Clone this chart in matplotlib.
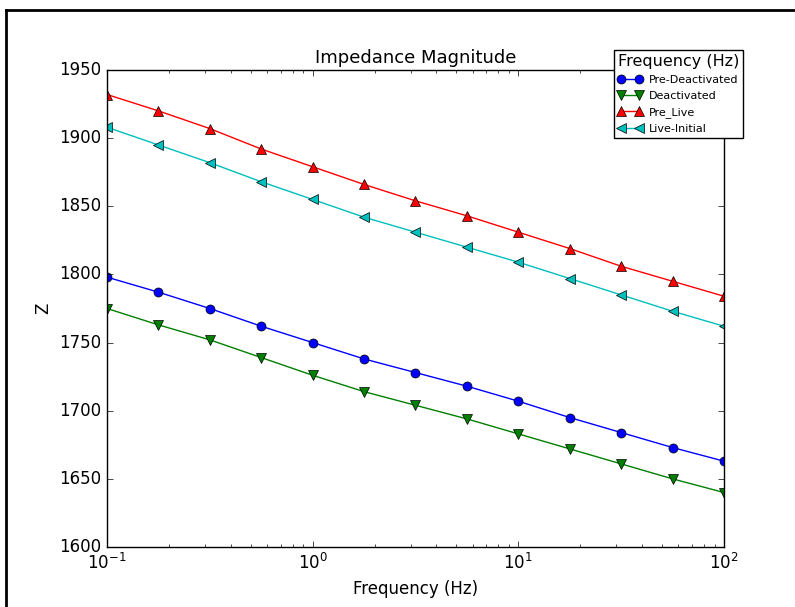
import numpy as np
import matplotlib
matplotlib.use("Agg")
import matplotlib.pyplot as plt
from matplotlib.lines import Line2D

# frequencies (Hz), 4 points per decade
freq = [0.1, 0.1778, 0.3162, 0.5623, 1.0, 1.778, 3.162, 5.623,
        10.0, 17.78, 31.62, 56.23, 100.0]

pre_deactivated = [1798, 1787, 1775, 1762, 1750, 1738, 1728, 1718, 1707, 1695, 1684, 1673, 1663]
deactivated = [1775, 1763, 1752, 1739, 1726, 1714, 1704, 1694, 1683, 1672, 1661, 1650, 1640]
pre_live = [1932, 1920, 1907, 1892, 1879, 1866, 1854, 1843, 1831, 1819, 1806, 1795, 1784]
live_initial = [1908, 1895, 1882, 1868, 1855, 1842, 1831, 1820, 1809, 1797, 1785, 1773, 1762]

plt.style.use("classic")
plt.rcParams["figure.facecolor"] = "white"

fig = plt.figure(figsize=(7.95, 6.07), dpi=100)
ax = fig.add_axes([0.1346, 0.0988, 0.7761, 0.7859])

ax.plot(freq, pre_deactivated, "b-o", markersize=6.5, label="Pre-Deactivated")
ax.plot(freq, deactivated, "g-v", markersize=6.5, label="Deactivated")
ax.plot(freq, pre_live, "r-^", markersize=6.5, label="Pre_Live")
ax.plot(freq, live_initial, "c-<", markersize=6.5, label="Live-Initial")

ax.set_xscale("log")
ax.set_xlim(0.1, 100)
ax.set_ylim(1600, 1950)
ax.set_title("Impedance Magnitude", fontsize=13)
ax.set_xlabel("Frequency (Hz)", fontsize=12)
ax.set_ylabel("Z", fontsize=12)
ax.tick_params(labelsize=12)

leg = ax.legend(title="Frequency (Hz)", loc="upper left",
                bbox_to_anchor=(0.772, 0.918), bbox_transform=fig.transFigure,
                fontsize=8, numpoints=2, handlelength=2.2, borderaxespad=0.0,
                labelspacing=0.55, borderpad=0.35, handletextpad=0.6, fancybox=False)
leg.get_title().set_fontsize(11.5)
leg.get_frame().set_linewidth(1.0)

# outer frame lines (top and left)
fig.add_artist(Line2D([0.008, 1.0], [0.983, 0.983], color="black", lw=2.0, transform=fig.transFigure))
fig.add_artist(Line2D([0.008, 0.008], [0.0, 0.983], color="black", lw=2.0, transform=fig.transFigure))

fig.savefig("out.png", dpi=100, facecolor="white")
